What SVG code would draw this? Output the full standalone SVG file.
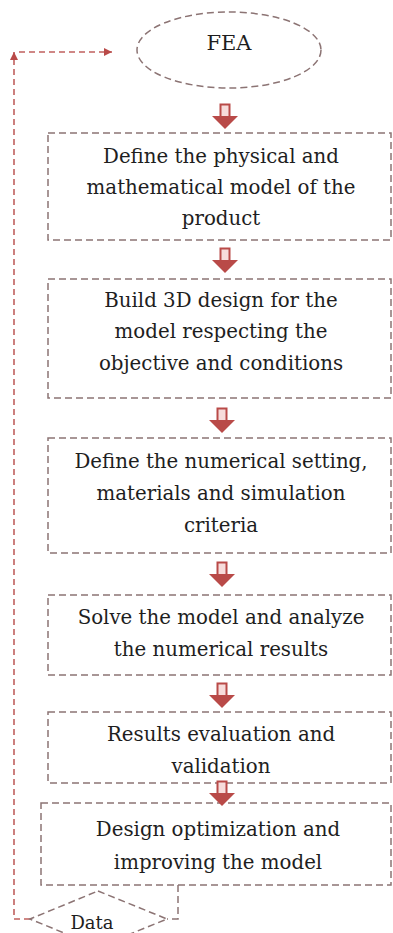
<svg xmlns="http://www.w3.org/2000/svg" xmlns:xlink="http://www.w3.org/1999/xlink" width="393" height="933" viewBox="0 0 393 933">
  <style>
    .box { fill: #ffffff; stroke: #8c7474; stroke-width: 1.5; stroke-dasharray: 7 4; }
    .lbl { font-family: "DejaVu Serif", "Liberation Serif", serif; font-size: 19.8px; fill: #1e1e1e; text-anchor: middle; }
    .loop { fill: none; stroke: #c0605e; stroke-width: 1.6; stroke-dasharray: 6 4; }
  </style>
  <defs>
    <marker id="ah" viewBox="0 0 10 10" refX="10" refY="5" markerWidth="8" markerHeight="8" markerUnits="userSpaceOnUse" orient="auto">
      <path d="M0,0 L10,5 L0,10 z" fill="#b94a48"/>
    </marker>
    <g id="darrow">
      <rect x="-4.5" y="0.5" width="9" height="13" fill="#f7dcdb" stroke="#b94a48" stroke-width="2"/>
      <polygon points="-13,12 13,12 0,25" fill="#b94a48"/>
    </g>
  </defs>

  <rect width="393" height="933" fill="#ffffff"/>

  <g id="connectors">
    <path class="loop" d="M30,919 H14 V52" marker-end="url(#ah)"/>
    <path class="loop" d="M19,52 H112" marker-end="url(#ah)"/>
    <path class="box" style="fill:none" d="M178,885 V919 H167"/>
  </g>

  <g id="fea">
    <ellipse class="box" cx="229" cy="50" rx="92" ry="38"/>
    <text class="lbl" x="229" y="50" style="font-size:21px">FEA</text>
  </g>

  <g id="step1">
    <rect class="box" x="48" y="133" width="343" height="107"/>
    <text class="lbl" x="221" y="163">Define the physical and</text>
    <text class="lbl" x="221" y="194">mathematical model of the</text>
    <text class="lbl" x="221" y="225">product</text>
  </g>

  <g id="step2">
    <rect class="box" x="48" y="279" width="343" height="119"/>
    <text class="lbl" x="221" y="307">Build 3D design for the</text>
    <text class="lbl" x="221" y="338">model respecting the</text>
    <text class="lbl" x="221" y="370">objective and conditions</text>
  </g>

  <g id="step3">
    <rect class="box" x="48" y="438" width="343" height="115"/>
    <text class="lbl" x="221" y="468">Define the numerical setting,</text>
    <text class="lbl" x="221" y="500">materials and simulation</text>
    <text class="lbl" x="221" y="532">criteria</text>
  </g>

  <g id="step4">
    <rect class="box" x="48" y="595" width="343" height="80"/>
    <text class="lbl" x="221" y="624">Solve the model and analyze</text>
    <text class="lbl" x="221" y="656">the numerical results</text>
  </g>

  <g id="step5">
    <rect class="box" x="48" y="712" width="343" height="71"/>
    <text class="lbl" x="221" y="741">Results evaluation and</text>
    <text class="lbl" x="221" y="773">validation</text>
  </g>

  <g id="step6">
    <rect class="box" x="41" y="803" width="350" height="82"/>
    <text class="lbl" x="218" y="836">Design optimization and</text>
    <text class="lbl" x="218" y="869">improving the model</text>
  </g>

  <g id="data">
    <polygon class="box" points="98,891 167,919 98,947 30,919"/>
    <text class="lbl" x="92" y="929" style="font-size:18px">Data</text>
  </g>

  <g id="flow-arrows">
    <use xlink:href="#darrow" x="225" y="104"/>
    <use xlink:href="#darrow" x="225" y="248"/>
    <use xlink:href="#darrow" x="222" y="408"/>
    <use xlink:href="#darrow" x="222" y="562"/>
    <use xlink:href="#darrow" x="222" y="683"/>
    <use xlink:href="#darrow" x="222" y="781"/>
  </g>
</svg>
